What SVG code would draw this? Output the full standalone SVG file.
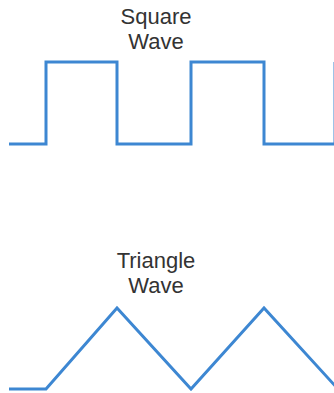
<svg xmlns="http://www.w3.org/2000/svg" width="334" height="393" viewBox="0 0 334 393">
<style>
.t{font-family:"Liberation Sans",Arial,sans-serif;font-size:22px;fill:#333;text-anchor:middle}
.w{fill:none;stroke:#3d87d2;stroke-width:3;stroke-linejoin:miter}
</style>
<rect width="334" height="393" fill="#fff"/>
<g id="square">
<text class="t" x="156" y="24">Square<tspan x="156" dy="25">Wave</tspan></text>
<polyline class="w" points="9,144 46,144 46,62 117,62 117,144 191,144 191,62 264,62 264,144 335,144 335,62"/>
</g>
<g id="triangle">
<text class="t" x="156" y="268">Triangle<tspan x="156" dy="25">Wave</tspan></text>
<polyline class="w" points="9,389 46,389 117,308 191,389 264,308 338,389"/>
</g>
</svg>
